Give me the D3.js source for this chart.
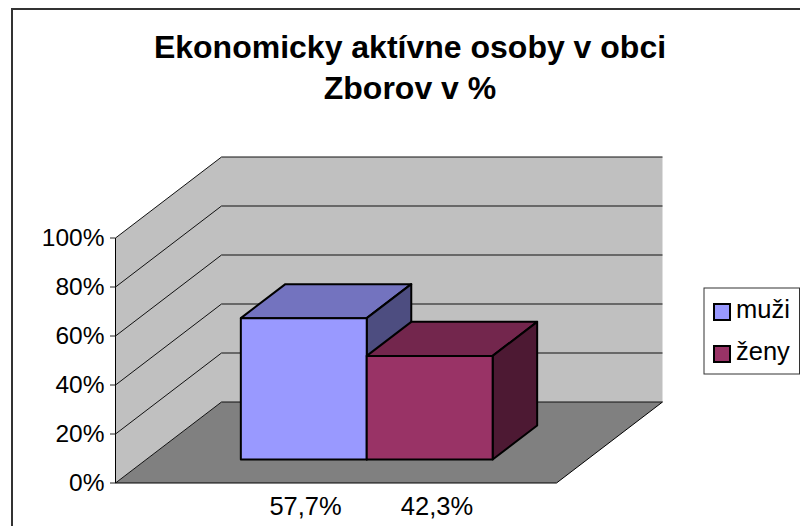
<!DOCTYPE html>
<html><head><meta charset="utf-8">
<script src="https://cdn.jsdelivr.net/npm/d3@7/dist/d3.min.js"></script>
<style>html,body{margin:0;padding:0;background:#fff}svg{display:block}text{font-family:"Liberation Sans",Arial,sans-serif;fill:#000}</style>
</head><body><div id="c"></div>
<script>
const titleLines = ["Ekonomicky aktívne osoby v obci", "Zborov v %"];
const categories = ["muži", "ženy"];
const values = [57.7, 42.3];
const valueLabels = ["57,7%", "42,3%"];
const yTicks = [0, 20, 40, 60, 80, 100];

const svg = d3.select("#c").append("svg").attr("width", 800).attr("height", 526);
svg.append("rect").attr("x", 12).attr("y", 9).attr("width", 800).attr("height", 540)
  .attr("fill", "#fff").attr("stroke", "#333").attr("stroke-width", 2);

const y = d3.scaleLinear().domain([0, 100]).range([483, 238]);
const floorX = d3.scaleLinear().domain([0, 1]).range([115.5, 556.5]);
const x = d3.scaleBand().domain(categories).range([0.2145, 0.7855]).paddingInner(0).paddingOuter(0);
const depthX = d3.scaleLinear().domain([0, 1]).range([0, 106]);
const depthY = d3.scaleLinear().domain([0, 1]).range([0, -81]);
const P = (fx, v, d) => [floorX(fx) + depthX(d), y(v) + depthY(d)];
const poly = pts => "M" + pts.map(p => p.join(",")).join("L") + "Z";

const colors = d3.scaleOrdinal().domain(categories).range(["#9999FF", "#993366"]);
const topColors = d3.scaleOrdinal().domain(categories).range(["#7373BF", "#73264D"]);
const sideColors = d3.scaleOrdinal().domain(categories).range(["#4D4D80", "#4D1933"]);

// walls (one outline so that no seam shows where they meet)
svg.append("path").attr("d", poly([P(0,0,0), P(0,100,0), P(0,100,1), P(1,100,1), P(1,0,1), P(0,0,1)])).attr("fill", "#C0C0C0");
// floor
svg.append("path").attr("d", poly([P(0,0,0), P(0,0,1), P(1,0,1), P(1,0,0)])).attr("fill", "#808080").attr("stroke", "none");
// grid
const grid = svg.append("g").attr("fill", "none").attr("stroke", "#000").attr("stroke-width", 1);
yTicks.forEach(t => {
  grid.append("path").attr("d", d3.line()([P(0,t,0), P(0,t,1), P(1,t,1)])).attr("stroke", "#111");
});
// floor outline
grid.append("path").attr("d", d3.line()([P(1,0,1), P(1,0,0), P(0,0,0)]));
// axis
const ax = svg.append("g");
ax.append("line").attr("x1", 115.5).attr("x2", 115.5).attr("y1", y(100)).attr("y2", y(0)).attr("stroke", "#000");
yTicks.forEach(t => {
  ax.append("line").attr("x1", 110).attr("x2", 115.5).attr("y1", y(t)).attr("y2", y(t)).attr("stroke", "#222");
  ax.append("text").attr("x", 104.5).attr("y", y(t) + 8).attr("text-anchor", "end").attr("font-size", 24.5).text(t + "%");
});
// bars
const d0 = 0.29, d1 = 0.71;
const bars = svg.append("g").attr("stroke", "#000").attr("stroke-width", 2).attr("stroke-linejoin", "round");
categories.forEach((c, i) => {
  const a = x(c) , b = x(c) + x.bandwidth(), v = values[i];
  bars.append("path").attr("fill", topColors(c)).attr("d", poly([P(a,v,d0), P(a,v,d1), P(b,v,d1), P(b,v,d0)]));
  bars.append("path").attr("fill", sideColors(c)).attr("d", poly([P(b,0,d0), P(b,v,d0), P(b,v,d1), P(b,0,d1)]));
  bars.append("path").attr("fill", colors(c)).attr("d", poly([P(a,0,d0), P(a,v,d0), P(b,v,d0), P(b,0,d0)]));
});
// value labels
categories.forEach((c, i) => {
  svg.append("text").attr("x", P(x(c) + x.bandwidth()/2, 0, 0)[0] + (i ? 38 : 32.5)).attr("y", 515).attr("text-anchor", "middle")
    .attr("font-size", 25.5).text(valueLabels[i]);
});
// title
titleLines.forEach((t, i) => {
  svg.append("text").attr("x", 410).attr("y", 58 + i * 41).attr("text-anchor", "middle")
    .attr("font-size", 32).attr("font-weight", "bold").text(t);
});
// legend
svg.append("rect").attr("x", 704).attr("y", 288).attr("width", 95.5).attr("height", 86)
  .attr("fill", "#fff").attr("stroke", "#333");
categories.forEach((c, i) => {
  const ly = 312 + i * 42;
  svg.append("rect").attr("x", 714).attr("y", ly - 8).attr("width", 16).attr("height", 16)
    .attr("fill", colors(c)).attr("stroke", "#000").attr("stroke-width", 2);
  svg.append("text").attr("x", 736).attr("y", ly + 5.5).attr("font-size", 25.5).text(c);
});
</script></body></html>
